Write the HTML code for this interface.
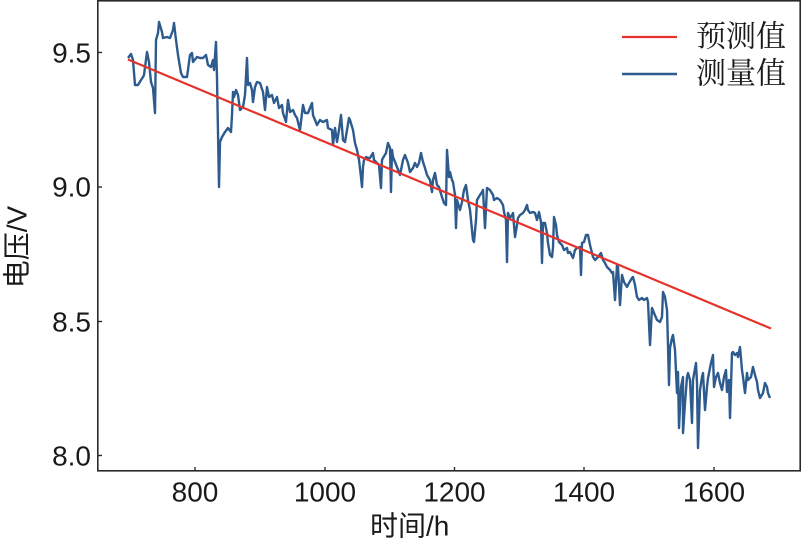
<!DOCTYPE html>
<html><head><meta charset="utf-8">
<style>
html,body{margin:0;padding:0;background:#fff;}
body{width:803px;height:540px;overflow:hidden;}
svg{display:block;}
.t{font-family:"Liberation Sans","Noto Sans CJK SC",sans-serif;fill:#1a1a1a;}
.lg{font-family:"Liberation Serif","Noto Serif CJK SC",serif;fill:#1a1a1a;}
</style></head><body>
<svg width="803" height="540" viewBox="0 0 803 540" xmlns="http://www.w3.org/2000/svg">
<rect x="0" y="0" width="803" height="540" fill="#fff"/>
<!-- measured series -->
<polyline fill="none" stroke="#2d5b8e" stroke-width="2.4" stroke-linejoin="round" points="
128,58 131,54 133,60 135,85 138,85 141,80 143,77 144,75 147,52 149,62 151,82 153,88 155,113 156,40 158,33 159,22 162,32 163,38 167,37 170,38 173,30 174,23 176,40 178,55 181,73 183,77 187,77 190,55 192,53 193,62 197,57 200,58 203,58 206,55 208,65 211,67 213,60 214,70 216,42 217,78 219,187 220,142 222,137 225,132 228,128 231,132 232,115 233,92 234,97 236,90 238,95 240,110 243,107 245,95 247,58 248,85 250,83 252,90 253,102 255,87 257,82 260,83 263,92 265,110 267,87 269,97 272,95 274,103 277,97 279,108 282,105 283,113 286,122 288,100 290,112 293,110 295,115 297,118 300,130 303,105 305,113 308,113 312,103 313,115 317,125 320,120 323,122 327,120 328,128 332,130 333,145 335,128 337,142 339,130 341,115 343,140 345,142 347,130 349,118
350,120 353,130 355,143 357,150 359,160 361,177 362,187 363,167 364,160 366,157 368,158 370,158 373,153 374,160 377,163 379,165 381,188 382,160 383,158 386,153 388,143 390,148 391,192 392,150 393,157 397,167 400,175 403,160 405,155 408,163 410,172 413,168 415,163 417,167 419,163 421,153 423,162 425,168 427,175 430,180 432,192 433,180 435,173 437,185 439,187 442,197 444,203 446,205 447,150 449,177 450,172 452,180 453,182 455,195 456,228 457,200 460,210 462,202 464,190 466,185 468,200 470,210 473,240 474,242 476,220 477,200 480,195 482,192 483,190 485,228 487,188 490,190 493,195 494,200 497,198 500,200 503,205 504,212 506,220 507,262 508,213 510,218 512,215 513,213 515,237 517,225 518,218 520,215 523,213 525,210 527,205 528,210 530,213 533,212 535,213 537,220 539,212 541,222 542,263 543,223 545,223 547,233 548,243 550,255 552,257 553,248 554,217 556,225 557,235 559,242 562,245 564,250 567,248 568,253 570,252 573,258 575,250 577,248 580,247 581,275
582,243 584,242 586,235 588,235 590,245 593,257 595,260 598,257 601,253 603,260 605,263 607,267 610,270 612,273 613,272 615,300 617,265 618,267 620,305 622,275 624,282 627,287 629,283 632,278 633,277 635,285 637,297 639,300 642,298 644,300 647,298 648,302 650,345 652,308 654,313 657,320 660,322 662,317 663,292 665,297 667,310 668,345 669,385 670,348 672,338 673,335 675,350 677,393 678,372 679,428 681,387 683,377 683,433 685,403 687,377 688,373 690,380 692,423 693,380 696,363 697,383 698,448 700,390 702,377 703,373 705,410 707,387 708,378 711,363 713,355 714,387 716,377 718,373 720,383 722,390 724,377 726,370 727,392 729,380 730,418 732,353 733,352 735,355 737,353 738,357 740,347 742,370 743,377 745,393 747,373 748,380 751,377 753,367 755,375 757,382 758,390 760,398 763,393 765,383 767,387 768,393 770,398"/>
<!-- predicted -->
<line x1="128" y1="59.5" x2="771" y2="328.5" stroke="#e5332b" stroke-width="2.2"/>
<!-- axes frame -->
<rect x="97.8" y="0.8" width="702.4" height="470" fill="none" stroke="#2a2a2a" stroke-width="1.6"/>
<!-- y ticks -->
<g stroke="#2a2a2a" stroke-width="1.4">
<line x1="98" y1="52.5" x2="102" y2="52.5"/>
<line x1="98" y1="187" x2="102" y2="187"/>
<line x1="98" y1="321.5" x2="102" y2="321.5"/>
<line x1="98" y1="455.5" x2="102" y2="455.5"/>
<line x1="195" y1="471" x2="195" y2="467"/>
<line x1="325" y1="471" x2="325" y2="467"/>
<line x1="454.5" y1="471" x2="454.5" y2="467"/>
<line x1="584" y1="471" x2="584" y2="467"/>
<line x1="714" y1="471" x2="714" y2="467"/>
</g>
<g class="t" font-size="28" text-anchor="end" dominant-baseline="central">
<text x="91" y="53">9.5</text>
<text x="91" y="187">9.0</text>
<text x="91" y="322">8.5</text>
<text x="91" y="456">8.0</text>
</g>
<g class="t" font-size="28" text-anchor="middle" dominant-baseline="central">
<text x="195" y="492">800</text>
<text x="325" y="492">1000</text>
<text x="454.5" y="492">1200</text>
<text x="584" y="492">1400</text>
<text x="714" y="492">1600</text>
</g>
<text class="t" x="370" y="526" font-size="28" dominant-baseline="central">时间/h</text>
<text class="t" font-size="28" text-anchor="middle" dominant-baseline="central" transform="translate(17,247) rotate(-90)">电压/V</text>
<!-- legend -->
<line x1="622" y1="37" x2="677" y2="37" stroke="#e5332b" stroke-width="2.2"/>
<line x1="622" y1="74" x2="677" y2="74" stroke="#2d5b8e" stroke-width="2.4"/>
<text class="lg" x="696" y="37" font-size="30" dominant-baseline="central">预测值</text>
<text class="lg" x="696" y="74" font-size="30" dominant-baseline="central">测量值</text>
</svg>
</body></html>
